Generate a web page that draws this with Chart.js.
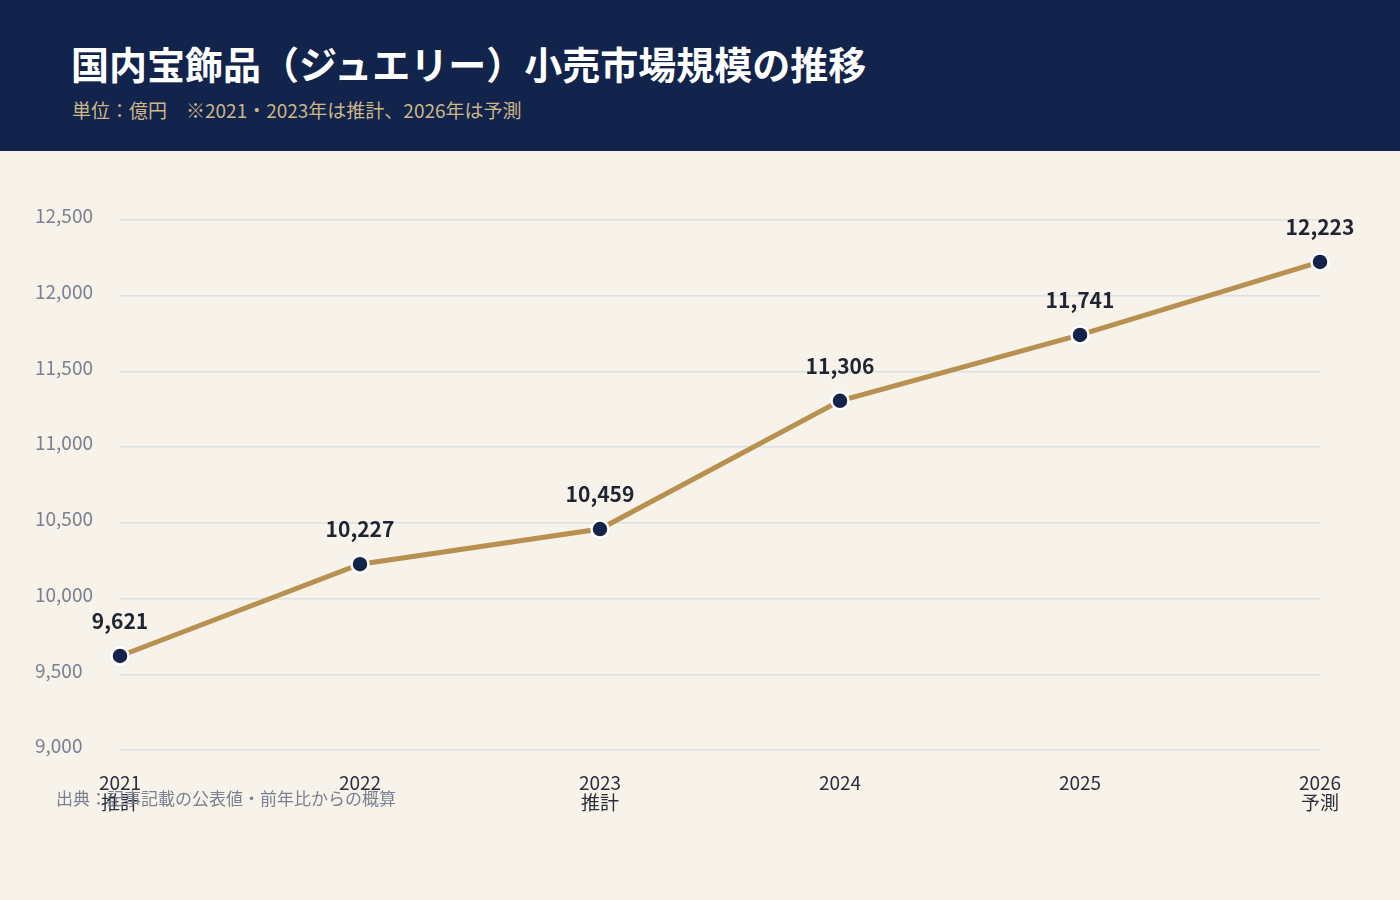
<!DOCTYPE html>
<html lang="ja">
<head>
<meta charset="utf-8">
<script src="https://cdn.jsdelivr.net/npm/chart.js@4/dist/chart.umd.min.js"></script>
<style>
  html,body{margin:0;padding:0;width:1400px;height:900px;background:#f7f3ea;overflow:hidden;font-family:"Noto Sans CJK JP","Noto Sans",sans-serif;}
  #header{position:absolute;left:0;top:0;width:1400px;height:151px;background:#12244b;}
  #title{position:absolute;left:71px;top:44px;font-size:38px;line-height:1;font-weight:700;color:#ffffff;white-space:nowrap;}
  #subtitle{position:absolute;left:72px;top:100px;font-size:19px;line-height:1;color:#cdb68a;white-space:nowrap;}
  #wrap{position:absolute;left:0;top:150px;width:1400px;height:750px;}
  #footer{position:absolute;left:56px;top:789px;font-size:17px;line-height:1;color:#7b8190;white-space:nowrap;}
</style>
</head>
<body>
<div id="header">
  <div id="title">国内宝飾品（ジュエリー）小売市場規模の推移</div>
  <div id="subtitle">単位：億円　※2021・2023年は推計、2026年は予測</div>
</div>
<div id="wrap"><canvas id="c" width="1400" height="750"></canvas></div>
<div id="footer">出典：記事記載の公表値・前年比からの概算</div>
<script>
const years = ["2021","2022","2023","2024","2025","2026"];
const yearNotes = ["推計","","推計","","","予測"];
const marketSize = [9621,10227,10459,11306,11741,12223];
const yMin = 9000, yMax = 12500, yStep = 500;

const labels = years.map((y,i)=> yearNotes[i] ? [y, yearNotes[i]] : y);

const valueLabels = {
  id:'valueLabels',
  afterDatasetsDraw(chart){
    const ctx = chart.ctx;
    const meta = chart.getDatasetMeta(0);
    ctx.save();
    ctx.font = '700 21px "Noto Sans CJK JP","Noto Sans",sans-serif';
    ctx.fillStyle = '#1f2430';
    ctx.textAlign = 'center';
    ctx.textBaseline = 'middle';
    meta.data.forEach((pt,i)=>{
      ctx.fillText(marketSize[i].toLocaleString('en-US'), pt.x, pt.y - 35);
    });
    ctx.restore();
  }
};

new Chart(document.getElementById('c'), {
  type:'line',
  data:{
    labels: labels,
    datasets:[{
      data: marketSize,
      borderColor:'#b8904f',
      borderWidth:5,
      pointRadius:8.5,
      pointHoverRadius:8.5,
      pointBackgroundColor:'#13234a',
      pointBorderColor:'#ffffff',
      pointBorderWidth:2.5,
      tension:0,
      fill:false
    }]
  },
  options:{
    responsive:false,
    animation:false,
    events:[],
    layout:{padding:{left:35,right:80,top:70,bottom:0}},
    plugins:{legend:{display:false},tooltip:{enabled:false}},
    scales:{
      x:{
        offset:false,
        grid:{display:false,drawTicks:false},
        border:{display:false},
        ticks:{
          padding:23,
          color:'#2b2f3a',
          font:{family:'"Noto Sans CJK JP","Noto Sans",sans-serif',size:19,lineHeight:1.05},
          maxRotation:0,autoSkip:false
        },
        afterFit(s){ s.height = 150; }
      },
      y:{
        min:yMin,max:yMax,
        grid:{color:'#dde0e6',lineWidth:1.5,drawTicks:false},
        border:{display:false},
        ticks:{
          stepSize:yStep,
          crossAlign:'far',
          padding:0,
          labelOffset:-4,
          color:'#7b8190',
          font:{family:'"Noto Sans CJK JP","Noto Sans",sans-serif',size:19},
          callback:(v)=>v.toLocaleString('en-US')
        },
        afterFit(s){ s.width = 85; }
      }
    }
  },
  plugins:[valueLabels]
});
</script>
</body>
</html>
